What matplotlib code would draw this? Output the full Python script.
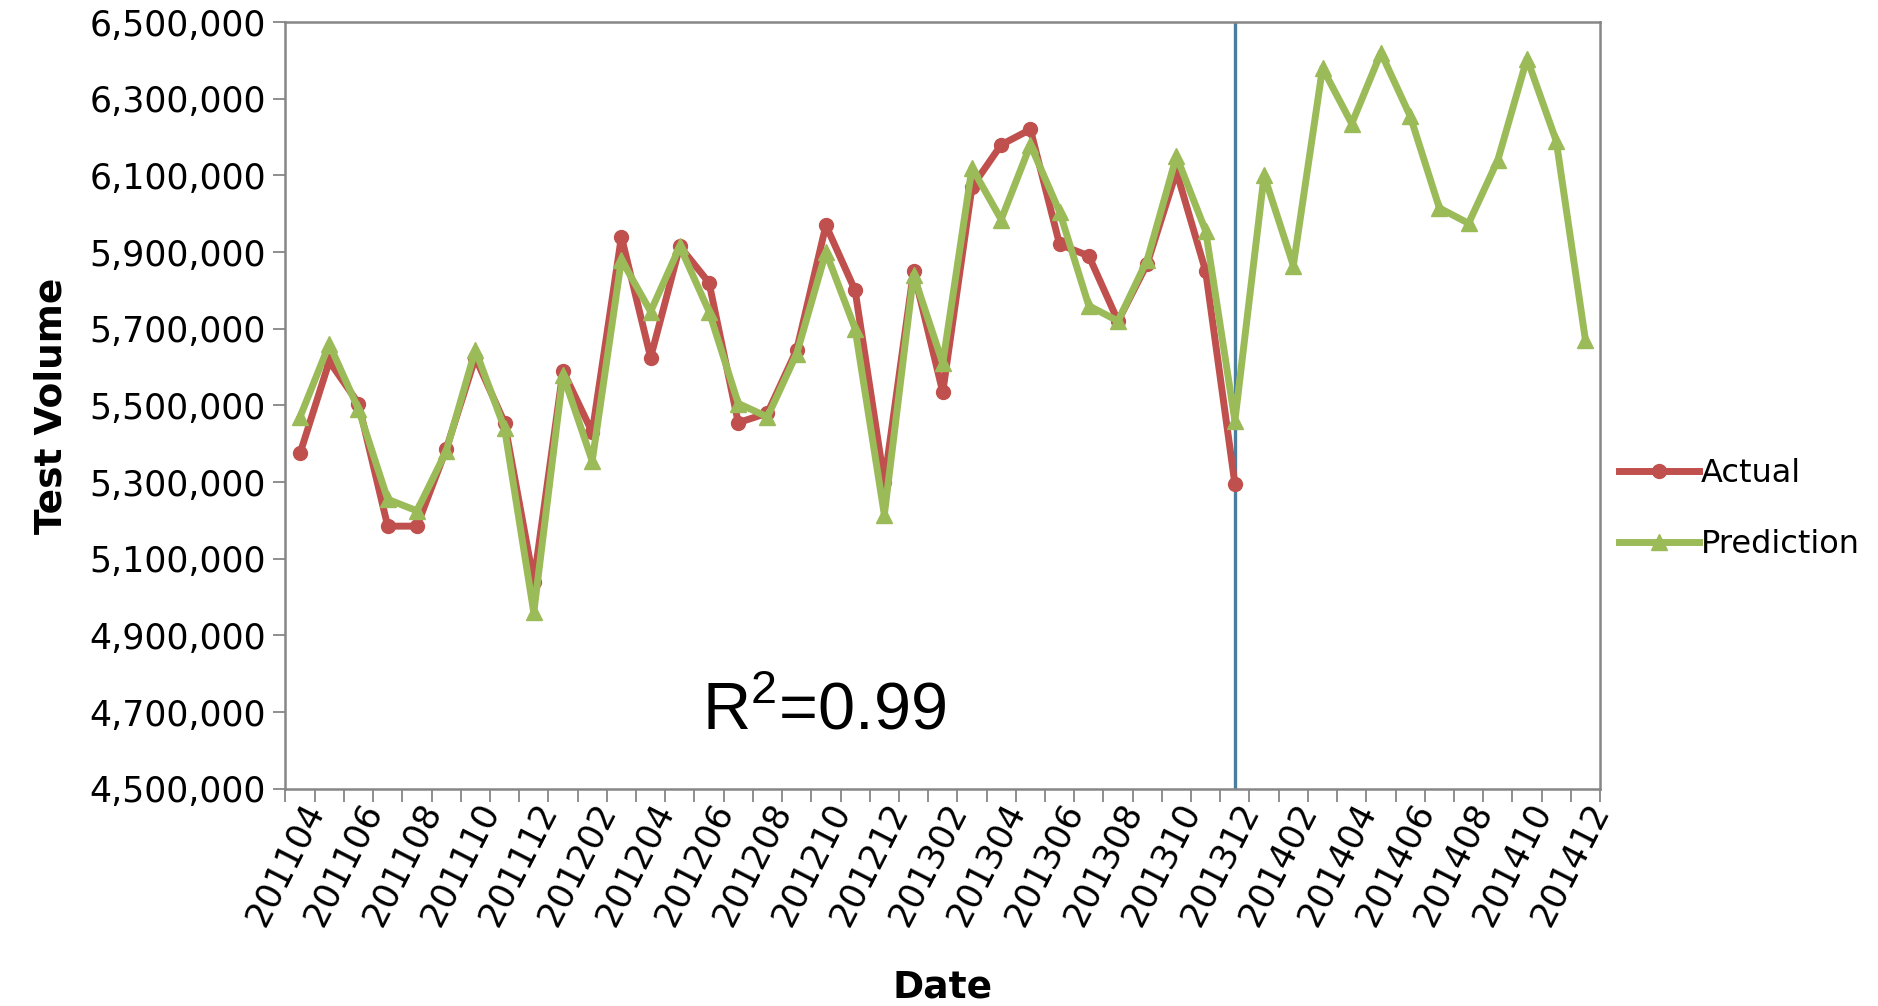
import matplotlib.pyplot as plt
import numpy as np

plt.rcParams['mathtext.fontset'] = 'custom'
plt.rcParams['mathtext.rm'] = 'Liberation Sans'

# months 201104 .. 201412
months = []
for y in (2011, 2012, 2013, 2014):
    for m in range(1, 13):
        if y == 2011 and m < 4:
            continue
        months.append(f"{y}{m:02d}")

actual = [5375000, 5615000, 5505000, 5185000, 5185000, 5385000, 5625000,
          5455000, 5040000, 5590000, 5430000, 5940000, 5625000, 5915000,
          5820000, 5455000, 5480000, 5645000, 5970000, 5800000, 5300000,
          5850000, 5535000, 6070000, 6180000, 6220000, 5920000, 5890000,
          5720000, 5870000, 6110000, 5850000, 5295000]

prediction = [5470000, 5660000, 5490000, 5255000, 5225000, 5380000, 5645000,
              5440000, 4960000, 5580000, 5355000, 5880000, 5745000, 5915000,
              5745000, 5505000, 5470000, 5635000, 5900000, 5700000, 5215000,
              5840000, 5610000, 6120000, 5985000, 6180000, 6005000, 5760000,
              5720000, 5880000, 6150000, 5955000, 5460000, 6100000, 5865000,
              6380000, 6235000, 6420000, 6255000, 6015000, 5975000, 6140000,
              6405000, 6190000, 5670000]

split_month = "201312"
y_ticks = list(range(4500000, 6500001, 200000))

fig = plt.figure(figsize=(18.78, 10.06), dpi=100)
ax = fig.add_axes([0.152, 0.216, 0.700, 0.762])

x_act = np.arange(len(actual))
x_pred = np.arange(len(prediction))
ax.plot(x_act, actual, color='#C0504D', lw=5, marker='o', ms=10,
        label='Actual', zorder=3)
ax.plot(x_pred, prediction, color='#9BBB59', lw=5, marker='^', ms=11,
        label='Prediction', zorder=4)
ax.axvline(months.index(split_month), color='#4A7E9E', lw=2.4, zorder=2)

ax.set_xlim(-0.5, len(months) - 0.5)
ax.set_ylim(4500000, 6500000)

ax.set_yticks(y_ticks)
ax.set_yticklabels([f"{v:,}" for v in y_ticks], fontsize=25)

# ticks between categories, labels every second month
ax.set_xticks(np.arange(-0.5, len(months), 1.0))
ax.set_xticklabels([])
lab_pos = np.arange(0, len(months), 2)
ax.set_xticks(lab_pos, minor=True)
ax.set_xticklabels([months[i] for i in lab_pos], minor=True, fontsize=25,
                   rotation=63, ha='right', va='top', rotation_mode='anchor')
ax.tick_params(axis='x', which='major', direction='out', length=9,
               width=1.3, color='#868686')
ax.tick_params(axis='x', which='minor', length=0, pad=6)
ax.tick_params(axis='y', direction='out', length=9, width=1.3,
               color='#868686', pad=5)

for s in ax.spines.values():
    s.set_color('#868686')
    s.set_linewidth(1.8)

ax.set_ylabel('Test Volume', fontsize=27, fontweight='bold', labelpad=14)
ax.set_xlabel('Date', fontsize=27, fontweight='bold', labelpad=28)

ax.text(0.41, 0.10, r'R$^{2}$=0.99', transform=ax.transAxes, fontsize=48,
        family='Liberation Sans', ha='center', va='center')

ax.legend(loc='center left', bbox_to_anchor=(1.0, 0.365), frameon=False,
          fontsize=23, handlelength=2.5, handletextpad=0.05,
          labelspacing=1.25, borderaxespad=0.2)

fig.savefig('out.png', dpi=100)
